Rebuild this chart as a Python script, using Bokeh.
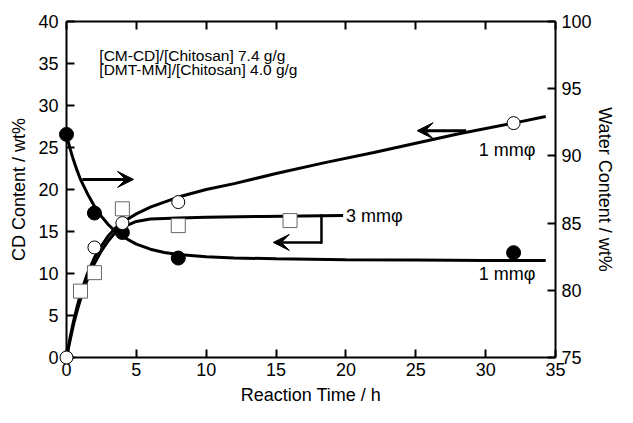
from bokeh.plotting import figure
from bokeh.models import LinearAxis, Range1d, FixedTicker, Arrow, VeeHead, Label
from bokeh.embed import file_html
from bokeh.resources import INLINE

# ---- measured data ----
time_1mm = [0, 2, 4, 8, 32]
cd_1mm = [0, 13.1, 16.0, 18.5, 27.9]

time_3mm = [1, 2, 4, 8, 16]
cd_3mm = [7.9, 10.1, 17.7, 15.7, 16.3]

time_water = [0, 2, 4, 8, 32]
water_1mm = [91.6, 85.75, 84.3, 82.4, 82.8]

# ---- fitted curves ----
fit_t_1mm = [0, 0.25, 0.5, 0.75, 1, 1.25, 1.5, 2, 2.5, 3, 3.5, 4, 5, 6, 8, 10, 12, 15, 18.5, 22, 25, 28, 32, 34.3]
fit_cd_1mm = [0, 2.3, 4.3, 6.0, 7.5, 8.8, 10.0, 11.9, 13.3, 14.5, 15.4, 16.1, 17.1, 17.9, 19.1, 20.0, 20.7, 21.9, 23.2, 24.4, 25.5, 26.6, 27.9, 28.7]

fit_t_3mm = [0, 0.25, 0.5, 0.75, 1, 1.25, 1.5, 2, 2.5, 3, 3.5, 4, 5, 6, 8, 10, 14, 19.8]
fit_cd_3mm = [0, 2.0, 3.9, 5.5, 6.9, 8.2, 9.3, 11.2, 12.7, 13.9, 14.9, 15.5, 16.2, 16.5, 16.6, 16.7, 16.8, 16.9]

fit_t_water = [0, 0.25, 0.5, 0.75, 1, 1.5, 2, 2.5, 3, 3.5, 4, 5, 6, 7, 8, 10, 12, 15, 20, 25, 30, 34.3]
fit_water_1mm = [91.56, 90.56, 89.69, 88.94, 88.25, 87.19, 86.25, 85.50, 84.88, 84.38, 84.00, 83.44, 83.06,
                 82.81, 82.66, 82.50, 82.41, 82.34, 82.28, 82.25, 82.22, 82.22]

x_ticks = [0, 5, 10, 15, 20, 25, 30, 35]
cd_ticks = [0, 5, 10, 15, 20, 25, 30, 35, 40]
water_ticks = [75, 80, 85, 90, 95, 100]

FONT = "Liberation Sans"
FS = "18px"

p = figure(width=617, height=407, x_range=Range1d(0, 35), y_range=Range1d(0, 40),
           output_backend="svg", toolbar_location=None,
           min_border_left=66, min_border_right=56, min_border_top=21, min_border_bottom=50)
p.extra_y_ranges = {"water": Range1d(75, 100)}
p.grid.visible = False
p.outline_line_color = None
p.background_fill_color = "white"
p.border_fill_color = "white"

bottom = p.below[0]
left = p.left[0]
right = LinearAxis(y_range_name="water")
top = LinearAxis()
p.add_layout(right, "right")
p.add_layout(top, "above")

def style(ax, ticks, standoff, title=None, title_standoff=0, labels=True):
    ax.ticker = FixedTicker(ticks=ticks)
    ax.axis_line_width = 2
    ax.axis_line_color = "black"
    ax.major_tick_line_width = 2
    ax.major_tick_in = 8
    ax.major_tick_out = 0
    ax.minor_tick_line_color = None
    ax.major_label_text_font = FONT
    ax.major_label_standoff = standoff
    if labels:
        ax.major_label_text_font_size = FS
        ax.major_label_text_color = "black"
    else:
        ax.major_label_text_font_size = "1px"
        ax.major_label_text_color = None
    if title:
        ax.axis_label = title
        ax.axis_label_text_font = FONT
        ax.axis_label_text_font_size = FS
        ax.axis_label_text_font_style = "normal"
        ax.axis_label_text_color = "black"
        ax.axis_label_standoff = title_standoff

style(bottom, x_ticks, 5, "Reaction Time / h", 6)
style(left, cd_ticks, 8, "CD Content / wt%", 6)
style(right, water_ticks, 6, "Water Content / wt%", 0)
style(top, x_ticks, 0, labels=False)

# curves
p.line(fit_t_1mm, fit_cd_1mm, line_width=3, line_color="black")
p.line(fit_t_3mm, fit_cd_3mm, line_width=3, line_color="black")
p.line(fit_t_water, fit_water_1mm, line_width=3, line_color="black", y_range_name="water")

# markers
r1 = p.scatter(time_water, water_1mm, marker="circle", size=14, fill_color="black",
               line_color="black", y_range_name="water")
r2 = p.scatter(time_3mm, cd_3mm, marker="square", size=14, fill_color="white",
               line_color="#666666", line_width=1)
r3 = p.scatter(time_1mm, cd_1mm, marker="circle", size=13, fill_color="white",
               line_color="black", line_width=1)
for r in (r1, r2, r3):
    r.level = "overlay"

# arrows
def head():
    return VeeHead(size=16, fill_color="black", line_color="black", line_width=1)

p.add_layout(Arrow(end=head(), x_start=1.13, y_start=21.2, x_end=4.8, y_end=21.2,
                   line_width=3, line_color="black"))
p.add_layout(Arrow(end=head(), x_start=28.6, y_start=27.0, x_end=25.1, y_end=27.0,
                   line_width=3, line_color="black"))
p.add_layout(Arrow(end=None, x_start=18.25, y_start=16.9, x_end=18.25, y_end=13.7,
                   line_width=2.5, line_color="black", line_cap="square"))
p.add_layout(Arrow(end=head(), x_start=18.25, y_start=13.7, x_end=14.8, y_end=13.7,
                   line_width=2.5, line_color="black"))

# text labels
def lab(x, y, t, size=FS):
    p.add_layout(Label(x=x, y=y, text=t, text_font=FONT, text_font_size=size,
                       text_baseline="middle", text_align="left", text_color="black"))

lab(29.5, 24.7, "1 mm\u03c6")
lab(29.5, 9.9, "1 mm\u03c6")
lab(20.0, 16.8, "3 mm\u03c6")
lab(2.35, 36.0, "[CM-CD]/[Chitosan] 7.4 g/g", "15.5px")
lab(2.35, 34.25, "[DMT-MM]/[Chitosan] 4.0 g/g", "15.5px")

open("out.html", "w").write(file_html(p, INLINE))
